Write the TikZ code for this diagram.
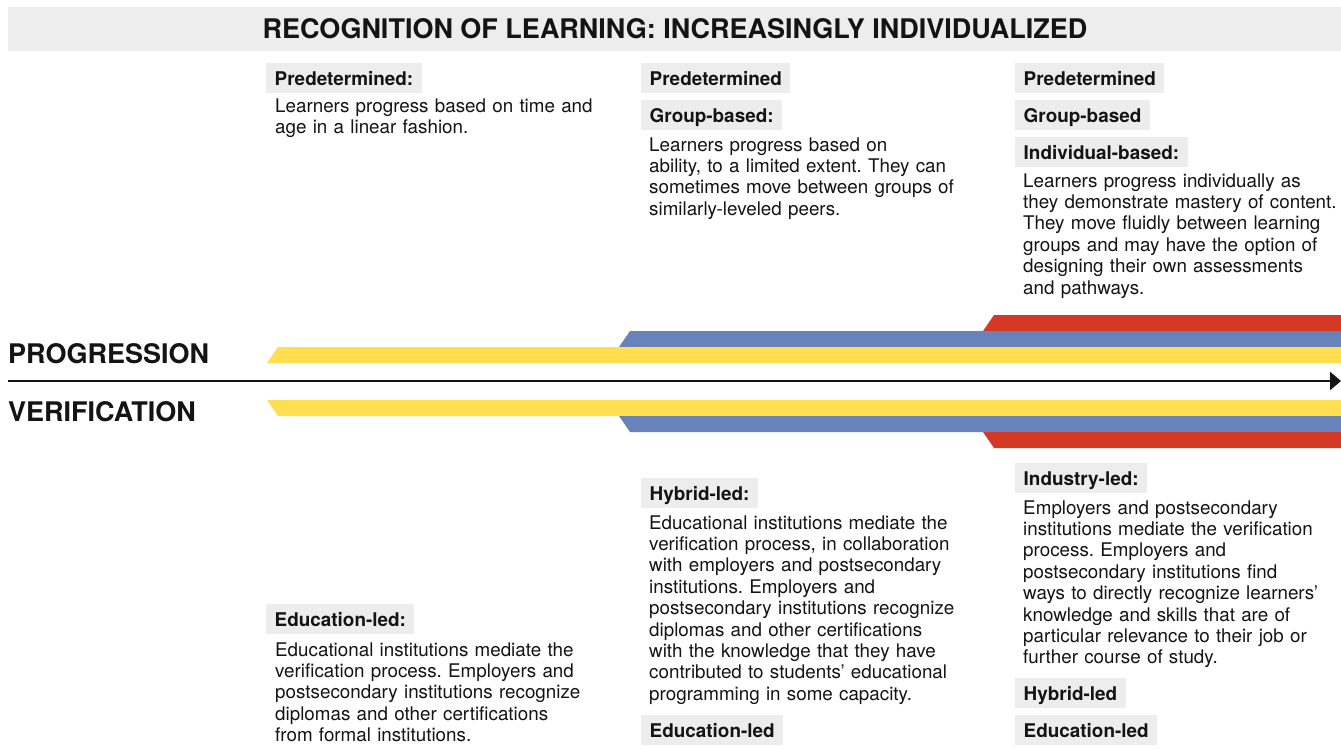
\documentclass[tikz,border=0pt]{standalone}
\usepackage{fontspec}
\setmainfont{TeX Gyre Heros}
\usetikzlibrary{arrows.meta}
\definecolor{ylw}{HTML}{FFDF4F}
\definecolor{blu}{HTML}{6783BA}
\definecolor{rd}{HTML}{D63826}
\definecolor{lgray}{HTML}{EDEDED}
\definecolor{ink}{HTML}{141414}
\frenchspacing
\begin{document}
\begin{tikzpicture}[x=1pt,y=-1pt,
  lab/.style={fill=lgray, anchor=north west, inner xsep=8.5pt, inner ysep=0pt,
    minimum height=30pt, text height=13.6pt, text depth=0pt,
    font=\fontsize{18.9}{21.4}\selectfont\bfseries, text=ink},
  body/.style={anchor=base west, inner sep=0pt, text width=380pt, align=left,
    font=\fontsize{18.8}{21.4}\selectfont\frenchspacing, text=ink},
  head/.style={font=\fontsize{27}{30}\selectfont\bfseries, text=ink, inner sep=0pt, anchor=base west}]
\useasboundingbox (0,0) rectangle (1341,748);
\fill[white] (0,0) rectangle (1341,748);
% title bar
\fill[lgray] (8,7) rectangle (1341,51);
\node[head, anchor=base] (title) at (675,38.5) {RECOGNITION OF LEARNING: INCREASINGLY INDIVIDUALIZED};
% bands top
\fill[rd] (994,315) -- (1341,315) -- (1341,331) -- (983,331) -- cycle;
\fill[blu] (630,331) -- (1341,331) -- (1341,347) -- (619,347) -- cycle;
\fill[ylw] (278,347) -- (1341,347) -- (1341,363) -- (267,363) -- cycle;
% bands bottom
\fill[ylw] (267,400) -- (1341,400) -- (1341,416) -- (278,416) -- cycle;
\fill[blu] (619,416) -- (1341,416) -- (1341,432) -- (630,432) -- cycle;
\fill[rd] (983,432) -- (1341,432) -- (1341,448) -- (994,448) -- cycle;
% axis
\coordinate (as) at (8,381);
\coordinate (ae) at (1341,381);
\draw[line width=2.6pt, ink, -{Triangle[length=11pt,width=18pt]}] (as) -- (ae);
\node[head] (prog) at (8,363) {PROGRESSION};
\node[head] (verif) at (8,421) {VERIFICATION};
% column 1 top
\node[lab] (p1) at (266,63) {Predetermined:};
\node[body] (p1t) at (275,112) {Learners progress based on time and\\age in a linear fashion.};
% column 2 top
\node[lab] (p2) at (641,63) {Predetermined};
\node[lab] (g2) at (641,100) {Group-based:};
\node[body] (g2t) at (649,151) {Learners progress based on\\ability, to a limited extent. They can\\sometimes move between groups of\\similarly-leveled peers.};
% column 3 top
\node[lab] (p3) at (1015,63) {Predetermined};
\node[lab] (g3) at (1015,100) {Group-based};
\node[lab] (i3) at (1015,137) {Individual-based:};
\node[body] (i3t) at (1023,187) {Learners progress individually as\\they demonstrate mastery of content.\\They move fluidly between learning\\groups and may have the option of\\designing their own assessments\\and pathways.};
% column 1 bottom
\node[lab] (e1) at (266,604) {Education-led:};
\node[body] (e1t) at (275,656) {Educational institutions mediate the\\verification process. Employers and\\postsecondary institutions recognize\\diplomas and other certifications\\from formal institutions.};
% column 2 bottom
\node[lab] (h2) at (641,478) {Hybrid-led:};
\node[body] (h2t) at (649,529) {Educational institutions mediate the\\verification process, in collaboration\\with employers and postsecondary\\institutions. Employers and\\postsecondary institutions recognize\\diplomas and other certifications\\with the knowledge that they have\\contributed to students’ educational\\programming in some capacity.};
\node[lab] (e2) at (641,715) {Education-led};
% column 3 bottom
\node[lab] (n3) at (1015,463) {Industry-led:};
\node[body] (n3t) at (1023,514) {Employers and postsecondary\\institutions mediate the verification\\process. Employers and\\postsecondary institutions find\\ways to directly recognize learners’\\knowledge and skills that are of\\particular relevance to their job or\\further course of study.};
\node[lab] (h3) at (1015,678) {Hybrid-led};
\node[lab] (e3) at (1015,715) {Education-led};
\end{tikzpicture}
\end{document}
